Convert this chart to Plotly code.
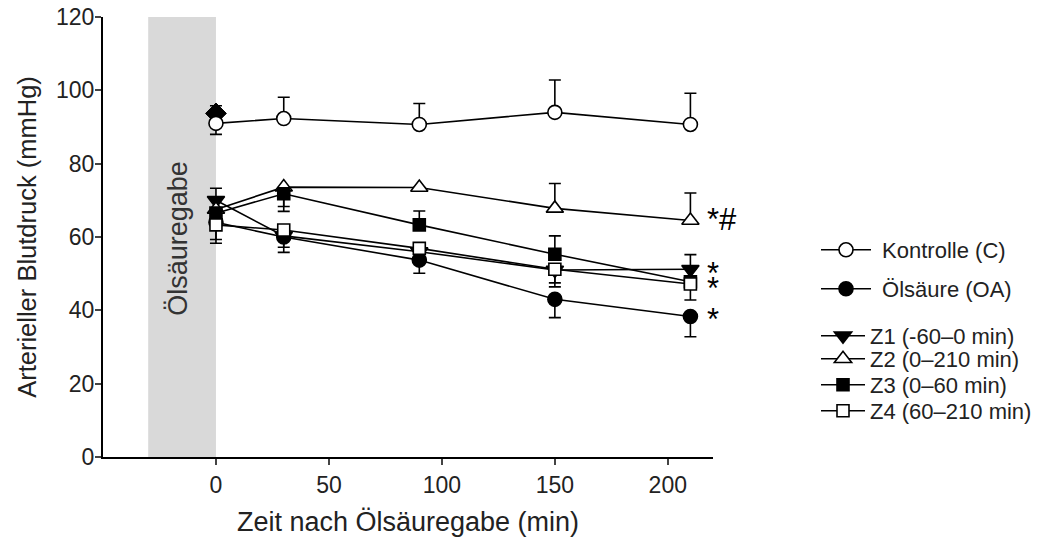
import plotly.graph_objects as go

# ---- data ----
time_min = [0, 30, 90, 150, 210]

kontrolle = [91.0, 92.3, 90.7, 94.0, 90.7]
kontrolle_err_up = [0, 5.8, 5.7, 8.8, 8.5]
kontrolle_err_down = [3.0, 0, 0, 0, 0]

oelsaeure = [64.0, 60.0, 53.7, 43.0, 38.3]
oelsaeure_err_up = [0, 0, 0, 0, 0]
oelsaeure_err_down = [5.7, 4.2, 3.6, 5.0, 5.5]

z1 = [70.0, 60.3, 56.0, 51.0, 51.2]
z1_err_up = [3.3, 0, 0, 0, 4.0]
z1_err_down = [0, 0, 0, 4.6, 0]

z2 = [67.5, 73.6, 73.5, 67.8, 64.5]
z2_err_up = [0, 0, 0, 6.8, 7.5]
z2_err_down = [0, 6.6, 0, 0, 0]

z3 = [66.5, 71.8, 63.3, 55.3, 47.8]
z3_err_up = [0, 0, 3.8, 5.0, 0]
z3_err_down = [0, 3.5, 0, 0, 0]

z4 = [63.3, 61.9, 56.9, 51.2, 47.2]
z4_err_up = [0, 0, 0, 0, 0]
z4_err_down = [4.0, 4.7, 0, 3.7, 4.4]

baseline_time = [0]
baseline_value = [93.7]
baseline_err_up = [2.1]

x_ticks = [0, 50, 100, 150, 200]
y_ticks = [0, 20, 40, 60, 80, 100, 120]

significance_labels = ["*#", "*", "*", "*"]
significance_values = [65.6, 51.0, 46.9, 38.2]

FONT = "Liberation Sans, Arial, sans-serif"
NB = "\u00a0"

series = [
    (NB + "Kontrolle (C)", kontrolle, kontrolle_err_up, kontrolle_err_down, "circle", "white", 14, "legend"),
    (NB + "Ölsäure (OA)", oelsaeure, oelsaeure_err_up, oelsaeure_err_down, "circle", "black", 14, "legend2"),
    ("Z1 (-60–0 min)", z1, z1_err_up, z1_err_down, "triangle-down", "black", 15, "legend3"),
    ("Z2 (0–210 min)", z2, z2_err_up, z2_err_down, "triangle-up", "white", 15, "legend4"),
    ("Z3 (0–60 min)", z3, z3_err_up, z3_err_down, "square", "black", 12, "legend5"),
    ("Z4 (60–210 min)", z4, z4_err_up, z4_err_down, "square", "white", 12, "legend6"),
]

fig = go.Figure()

fig.add_shape(type="rect", xref="x", yref="y", x0=-30, x1=0, y0=0, y1=120,
              fillcolor="#d9d9d9", line=dict(width=0), layer="below")

fig.add_trace(go.Scatter(
    x=baseline_time, y=baseline_value, mode="markers", showlegend=False,
    marker=dict(symbol="diamond", size=16, color="black", line=dict(color="black", width=1)),
    error_y=dict(type="data", symmetric=False, array=baseline_err_up, arrayminus=[0],
                 color="black", thickness=1.6, width=6),
))

for name, vals, eu, ed, sym, fill, size, leg in series:
    fig.add_trace(go.Scatter(
        x=time_min, y=vals, mode="lines+markers", name=name, legend=leg,
        line=dict(color="black", width=1.6),
        marker=dict(symbol=sym, size=size, color=fill, line=dict(color="black", width=1.6)),
        error_y=dict(type="data", symmetric=False, array=eu, arrayminus=ed,
                     color="black", thickness=1.6, width=6),
    ))

# significance markers
for lab, val in zip(significance_labels, significance_values):
    fig.add_annotation(x=time_min[-1], y=val, xref="x", yref="y", text=lab,
                       showarrow=False, xanchor="left", yanchor="middle",
                       xshift=15, yshift=-3,
                       font=dict(family=FONT, size=31, color="black"))

fig.add_annotation(x=-16.8, y=59.5, xref="x", yref="y", text="Ölsäuregabe",
                   showarrow=False, textangle=-90,
                   font=dict(family=FONT, size=27, color="#333333"))

legend_y_px = [250, 289, 336, 359, 385, 411]
legend_x_px = [816, 816, 816, 816, 816, 816]
legend_font = [22, 22, 22, 22, 22, 22]
legend_itemwidth = [50, 50, 44, 44, 44, 44]
legends = {}
for i, ypx in enumerate(legend_y_px):
    key = "legend" if i == 0 else f"legend{i+1}"
    legends[key] = dict(
        x=legend_x_px[i] / 1038, y=1 - ypx / 540, xref="container", yref="container",
        xanchor="left", yanchor="middle", bgcolor="rgba(0,0,0,0)",
        borderwidth=0, itemwidth=legend_itemwidth[i],
        font=dict(family=FONT, size=legend_font[i], color="#222222"),
    )

fig.update_layout(
    width=1038, height=540,
    margin=dict(l=103, r=325, t=17, b=83, autoexpand=False),
    plot_bgcolor="white", paper_bgcolor="white",
    font=dict(family=FONT, size=22, color="#222222"),
    **legends,
)

fig.update_xaxes(
    range=[-50, 220], tickvals=x_ticks, ticks="outside", ticklen=6, tickwidth=2,
    showline=True, linecolor="black", linewidth=2, showgrid=False, zeroline=False,
    automargin=False,
    tickfont=dict(family=FONT, size=23, color="#222222"),
    title=dict(text="Zeit nach Ölsäuregabe (min)", standoff=16,
               font=dict(family=FONT, size=27, color="#222222")),
)
fig.update_yaxes(
    range=[0, 120], tickvals=y_ticks, ticks="outside", ticklen=6, tickwidth=2,
    showline=True, linecolor="black", linewidth=2, showgrid=False, zeroline=False,
    automargin=False, ticklabelstandoff=-4,
    tickfont=dict(family=FONT, size=23, color="#222222"),
    title=dict(text="Arterieller Blutdruck (mmHg)", standoff=12,
               font=dict(family=FONT, size=25.5, color="#222222")),
)

fig.write_html("out.html", config={"displayModeBar": False},
               post_script="document.body.style.margin='0';")
